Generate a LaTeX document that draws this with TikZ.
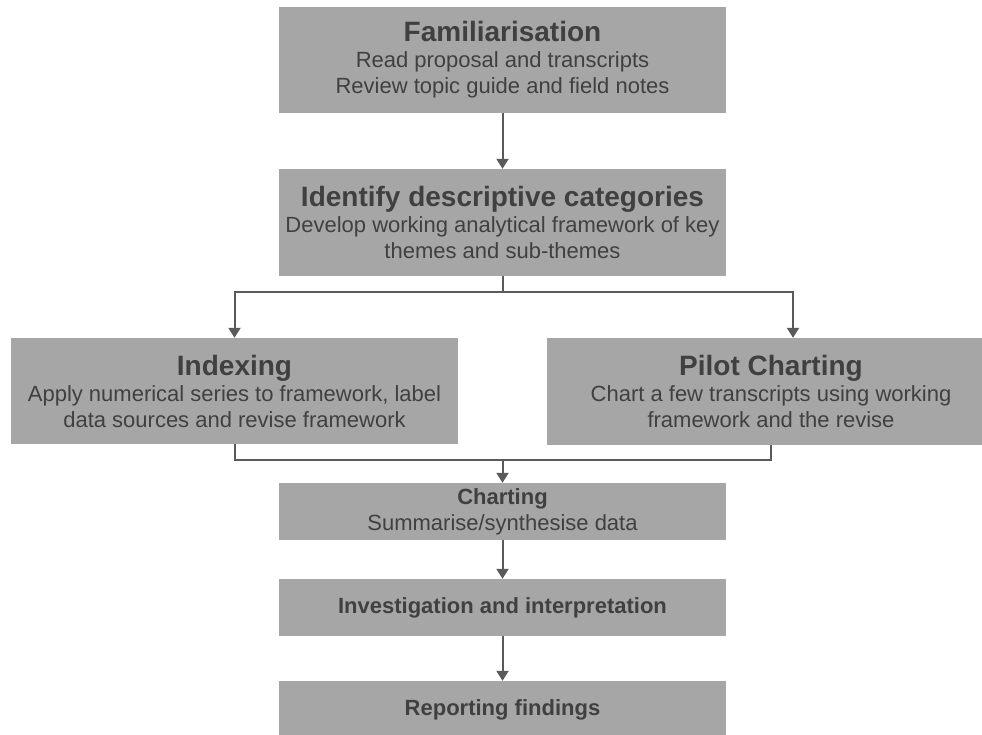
\documentclass[tikz,border=0pt]{standalone}
\usepackage{fontspec}
\setmainfont{Liberation Sans}
\usetikzlibrary{arrows.meta}
\definecolor{boxgray}{HTML}{A6A6A6}
\definecolor{inkgray}{HTML}{404040}
\definecolor{linegray}{HTML}{5A5A5A}
\newcommand\bigtitle[1]{{\fontsize{28}{26}\selectfont\bfseries #1}}
\newcommand\smalltitle[1]{{\bfseries #1}}
\begin{document}
\begin{tikzpicture}[x=1pt,y=-1pt,
  stage/.style={rectangle, fill=boxgray, text=inkgray, inner sep=0pt,
    align=center, minimum width=447pt, font=\fontsize{22}{26}\selectfont},
  link/.style={draw=linegray, line width=2pt},
  flow/.style={link, -{Triangle[width=12pt,length=10pt]}},
]
\clip (0,0) rectangle (982,734);

% stages
\node[stage, minimum height=106pt] (fam) at (502.5,60)
  {\bigtitle{Familiarisation}\\Read proposal and transcripts\\Review topic guide and field notes};
\node[stage, minimum height=107pt] (ident) at (502.5,222.5)
  {\bigtitle{Identify descriptive categories}\\Develop working analytical framework of key\\themes and sub-themes};
\node[stage, minimum height=106pt] (index) at (234.5,391)
  {\bigtitle{Indexing}\\Apply numerical series to framework, label\\data sources and revise framework};
\node[stage, minimum width=448pt, minimum height=107pt] (pilot) at (771,391.5)
  {\bigtitle{Pilot Charting}\\Chart a few transcripts using working\\framework and the revise};
\node[stage, minimum height=57pt] (chart) at (502.5,511.5)
  {\smalltitle{Charting}\\Summarise/synthesise data};
\node[stage, minimum height=57pt] (invest) at (502.5,607.5)
  {\smalltitle{Investigation and interpretation}};
\node[stage, minimum height=57pt] (report) at (502.5,709.5)
  {\smalltitle{Reporting findings}};

% connectors
\coordinate (split) at (502.5,292);
\coordinate (join) at (502.5,460);
\draw[flow] (fam.south) -- (ident.north);
\draw[link] (ident.south) -- (split);
\draw[flow] (split) -| (index.north);
\draw[flow] (split) -| ([xshift=22pt]pilot.north);
\draw[link] (index.south) |- (join);
\draw[link] (pilot.south) |- (join);
\draw[flow] (join) -- (chart.north);
\draw[flow] (chart.south) -- (invest.north);
\draw[flow] (invest.south) -- (report.north);
\end{tikzpicture}
\end{document}
